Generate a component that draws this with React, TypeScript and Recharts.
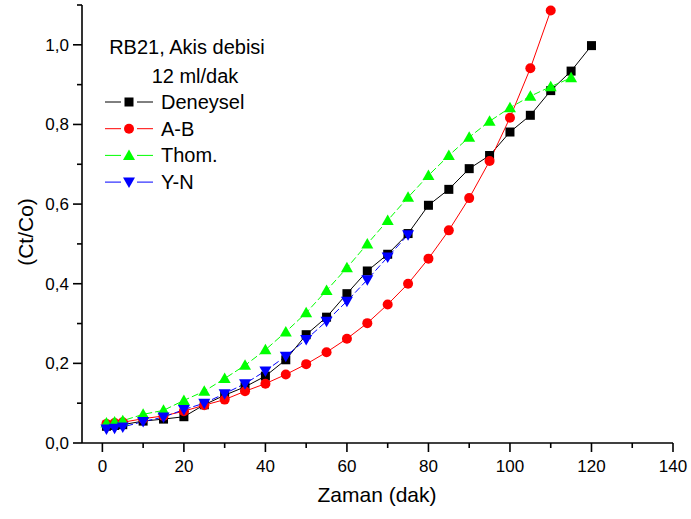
import { LineChart, Line, XAxis, YAxis, Legend } from 'recharts'

const times = [1, 3, 5, 10, 15, 20, 25, 30, 35, 40, 45, 50, 55, 60, 65, 70, 75, 80, 85, 90, 95, 100, 105, 110, 115, 120]

const deneysel = [0.042, 0.044, 0.046, 0.055, 0.06, 0.066, 0.096, 0.12, 0.141, 0.168, 0.209, 0.272, 0.316, 0.375, 0.432, 0.474, 0.526, 0.597, 0.637, 0.689, 0.722, 0.781, 0.823, 0.885, 0.934, 0.998]
const ab = [0.048, 0.05, 0.052, 0.061, 0.068, 0.08, 0.095, 0.109, 0.13, 0.149, 0.172, 0.198, 0.228, 0.262, 0.301, 0.348, 0.4, 0.463, 0.534, 0.615, 0.708, 0.817, 0.941, 1.086]
const thom = [0.05, 0.053, 0.056, 0.072, 0.082, 0.107, 0.13, 0.162, 0.195, 0.234, 0.279, 0.327, 0.383, 0.44, 0.5, 0.559, 0.617, 0.672, 0.722, 0.768, 0.808, 0.842, 0.871, 0.895, 0.917]
const yn = [0.035, 0.037, 0.04, 0.054, 0.065, 0.084, 0.1, 0.124, 0.149, 0.181, 0.218, 0.26, 0.306, 0.356, 0.41, 0.467, 0.523]

const xTicks = [0, 10, 20, 30, 40, 50, 60, 70, 80, 90, 100, 110, 120, 130, 140]
const yTicks = [0, 0.1, 0.2, 0.3, 0.4, 0.5, 0.6, 0.7, 0.8, 0.9, 1.0, 1.1]

const FONT = '"Liberation Sans", Arial, sans-serif'

type Shape = 'square' | 'circle' | 'up' | 'down'

const series: { key: string; name: string; color: string; shape: Shape; dash?: string }[] = [
  { key: 'den', name: 'Deneysel', color: '#000000', shape: 'square' },
  { key: 'ab', name: 'A-B', color: '#ff0000', shape: 'circle' },
  { key: 'thom', name: 'Thom.', color: '#00ff00', shape: 'up', dash: '7 3' },
  { key: 'yn', name: 'Y-N', color: '#0000ff', shape: 'down', dash: '7 3' },
]

const rows = times.map((t, i) => ({
  x: t,
  den: deneysel[i] ?? null,
  ab: ab[i] ?? null,
  thom: thom[i] ?? null,
  yn: yn[i] ?? null,
}))

function Marker({ shape, cx, cy, color }: { shape: Shape; cx: number; cy: number; color: string }) {
  if (shape === 'square') return <rect x={cx - 4.5} y={cy - 4.5} width={9} height={9} fill={color} />
  if (shape === 'circle') return <circle cx={cx} cy={cy} r={5} fill={color} />
  if (shape === 'up')
    return <polygon points={`${cx},${cy - 6} ${cx + 6},${cy + 4.5} ${cx - 6},${cy + 4.5}`} fill={color} />
  return <polygon points={`${cx - 6},${cy - 4.5} ${cx + 6},${cy - 4.5} ${cx},${cy + 6}`} fill={color} />
}

const XTick = ({ x, y, payload }: any) => {
  const v = payload.value
  const major = v % 20 === 0
  return (
    <g>
      <line x1={x} x2={x} y1={y} y2={y + (major ? 9 : 5)} stroke="#000" strokeWidth={1.6} />
      {major && (
        <text x={x} y={y + 29} textAnchor="middle" fontSize={17} fontFamily={FONT} fill="#000">
          {v}
        </text>
      )}
    </g>
  )
}

const YTick = ({ x, y, payload }: any) => {
  const v = payload.value
  const major = Math.round(v * 10) % 2 === 0
  return (
    <g>
      <line x1={x} x2={x - (major ? 9 : 5)} y1={y} y2={y} stroke="#000" strokeWidth={1.6} />
      {major && (
        <text x={x - 13} y={y + 6} textAnchor="end" fontSize={17} fontFamily={FONT} fill="#000">
          {v.toFixed(1).replace('.', ',')}
        </text>
      )}
    </g>
  )
}

// legend: two text lines on top, then one row per series with "—marker—"
const renderLegend = () => (
  <svg width={200} height={170} style={{ fontFamily: FONT }}>
    <text x={92} y={24} textAnchor="middle" fontSize={20}>RB21, Akis debisi</text>
    <text x={100} y={53} textAnchor="middle" fontSize={20}>12 ml/dak</text>
    {series.map((s, i) => {
      const cy = 72 + i * 26.7
      return (
        <g key={s.key}>
          <line x1={10} x2={26} y1={cy} y2={cy} stroke={s.color} strokeWidth={1} />
          <line x1={42} x2={58} y1={cy} y2={cy} stroke={s.color} strokeWidth={1} />
          <Marker shape={s.shape} cx={34} cy={cy} color={s.color} />
          <text x={66} y={cy + 7} fontSize={20}>{s.name}</text>
        </g>
      )
    })}
  </svg>
)

export default function App() {
  return (
    <div style={{ position: 'absolute', left: 0, top: 0, width: 691, height: 519, background: '#fff' }}>
      <LineChart
        width={691}
        height={519}
        data={rows}
        margin={{ top: 5, right: 18, bottom: 46, left: 22 }}
      >
        <XAxis
          type="number"
          dataKey="x"
          domain={[-5, 140]}
          ticks={xTicks}
          interval={0}
          tickSize={0}
          tickMargin={0}
          tick={<XTick />}
          axisLine={{ stroke: '#000', strokeWidth: 1.6 }}
          height={30}
          label={{
            content: () => (
              <text x={377} y={502} textAnchor="middle" fontSize={21} fontFamily={FONT} fill="#000">
                Zaman (dak)
              </text>
            ),
          }}
        />
        <YAxis
          type="number"
          domain={[0, 1.1]}
          ticks={yTicks}
          interval={0}
          tickSize={0}
          tickMargin={0}
          tick={<YTick />}
          axisLine={{ stroke: '#000', strokeWidth: 1.6 }}
          width={60}
          label={{
            content: () => (
              <text
                x={25}
                y={232}
                transform="rotate(-90 25 232)"
                textAnchor="middle"
                dominantBaseline="central"
                fontSize={21}
                fontFamily={FONT}
                fill="#000"
              >
                (Ct/Co)
              </text>
            ),
          }}
        />
        <Legend
          layout="horizontal"
          verticalAlign="middle"
          align="center"
          content={renderLegend}
          wrapperStyle={{ left: 95, top: 30, width: 200, height: 170 }}
        />
        {series.map((s) => (
          <Line
            key={s.key}
            dataKey={s.key}
            name={s.name}
            stroke={s.color}
            strokeWidth={1}
            strokeDasharray={s.dash}
            isAnimationActive={false}
            dot={(p: any) =>
              p.cy == null || p.value == null ? (
                <g key={`${s.key}-${p.index}`} />
              ) : (
                <Marker key={`${s.key}-${p.index}`} shape={s.shape} cx={p.cx} cy={p.cy} color={s.color} />
              )
            }
            activeDot={false}
          />
        ))}
      </LineChart>
    </div>
  )
}
